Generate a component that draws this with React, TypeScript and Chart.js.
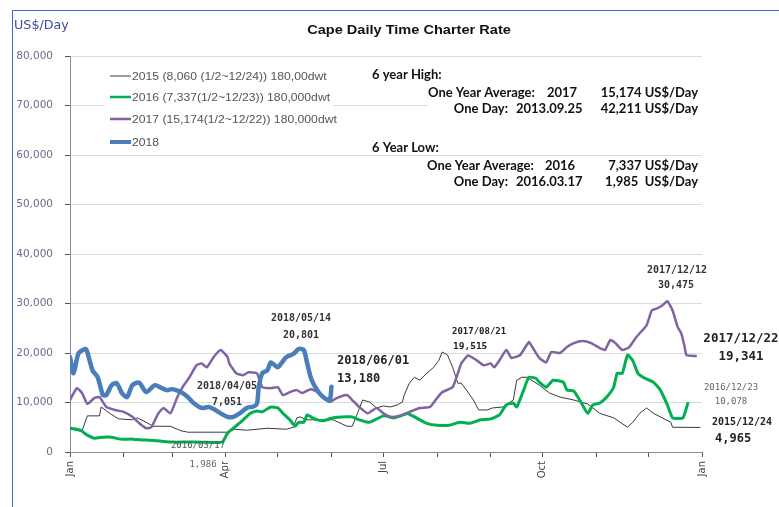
import { useEffect, useRef } from "react";
import { Chart, registerables } from "chart.js";
Chart.register(...registerables);

// ---- axis data ----
const monthTickDays = [0, 31, 59, 90, 120, 151, 181, 212, 243, 273, 304, 334, 365];
const monthTickLabels = ["Jan", "", "", "Apr", "", "", "Jul", "", "", "Oct", "", "", "Jan"];
const yTickValues = [0, 10000, 20000, 30000, 40000, 50000, 60000, 70000, 80000];

// ---- series data (day of year, US$/Day) ----
const days2018 = [0, 2, 5, 9, 10, 13, 16, 19, 21, 24, 27, 30, 33, 36, 40, 44, 49, 53, 56, 59, 64, 68, 71, 76, 80, 83, 87, 91, 94, 98, 102, 106, 108, 109, 111, 114, 116, 120, 122, 125, 129, 132, 135, 137, 139, 141, 144, 147, 150, 151];
const rate2018 = [19200, 15900, 20000, 20800, 20200, 16500, 15100, 11500, 11500, 13500, 13900, 11900, 11100, 13500, 14000, 12100, 13500, 12900, 12500, 12700, 12100, 11100, 10000, 8900, 9100, 8700, 7800, 7100, 7051, 7800, 8900, 9200, 9800, 13100, 15900, 16500, 18100, 17100, 17900, 19200, 19800, 20801, 20600, 17900, 15100, 13500, 11900, 10900, 10500, 13180];

const days2017 = [0, 4, 7, 10, 14, 17, 21, 26, 31, 36, 40, 44, 47, 51, 54, 58, 62, 65, 69, 73, 76, 79, 83, 87, 91, 92, 96, 100, 103, 108, 111, 116, 120, 123, 127, 131, 134, 139, 143, 146, 150, 154, 160, 163, 167, 172, 177, 181, 185, 191, 196, 202, 208, 212, 215, 221, 224, 226, 230, 235, 239, 243, 245, 248, 252, 255, 260, 265, 267, 271, 275, 278, 283, 287, 291, 296, 301, 306, 309, 312, 315, 319, 323, 327, 333, 336, 339, 342, 345, 348, 351, 353, 355, 356, 362];
const rate2017 = [10500, 12900, 11900, 9700, 10900, 11100, 9100, 8500, 8100, 7100, 5800, 4800, 5000, 7800, 8900, 7800, 11100, 13100, 15100, 17500, 17900, 17100, 19200, 20600, 19200, 17900, 15900, 15500, 16100, 15900, 13100, 12900, 13100, 11500, 12100, 12500, 11900, 12700, 12100, 11100, 10100, 10900, 11500, 10500, 9100, 7800, 8900, 7800, 7100, 7400, 8100, 8900, 9100, 10900, 12100, 13100, 15900, 17900, 19515, 18500, 17500, 17900, 17100, 18500, 20600, 19000, 19600, 22200, 21200, 19000, 18100, 20200, 20000, 21200, 22000, 22400, 22000, 21000, 20600, 22600, 22000, 20600, 21200, 23200, 25600, 28600, 29000, 29600, 30475, 28600, 25200, 24000, 21200, 19600, 19341];

const days2016 = [0, 6, 10, 14, 19, 24, 29, 36, 44, 52, 59, 68, 76, 83, 88, 91, 95, 100, 104, 108, 111, 116, 120, 123, 127, 130, 132, 135, 137, 140, 143, 146, 152, 160, 163, 167, 173, 181, 187, 191, 195, 200, 206, 212, 219, 225, 231, 237, 243, 248, 252, 256, 258, 262, 265, 269, 271, 275, 279, 285, 287, 291, 295, 299, 302, 306, 310, 314, 316, 319, 322, 325, 328, 332, 337, 341, 345, 348, 354, 357];
const rate2016 = [4800, 4400, 3400, 2800, 3000, 3000, 2600, 2600, 2400, 2200, 2000, 2000, 1985, 1900, 2000, 3800, 5000, 6500, 7800, 8300, 8100, 9100, 8900, 7800, 6500, 5200, 6000, 6000, 7500, 6900, 6500, 6300, 6900, 7100, 7100, 6500, 6000, 7300, 6900, 7300, 7800, 6900, 5800, 5400, 5400, 6000, 5800, 6500, 6700, 7500, 9500, 9900, 9100, 12500, 15100, 14900, 14100, 13100, 14500, 14100, 12500, 12300, 10100, 7800, 9500, 9900, 11100, 13100, 15900, 15900, 19600, 18500, 15900, 14900, 14100, 12500, 9500, 6900, 6900, 10078];

const days2015 = [1, 6, 7, 10, 17, 18, 23, 28, 36, 39, 44, 48, 58, 64, 68, 91, 95, 102, 114, 125, 129, 131, 133, 136, 152, 160, 163, 166, 169, 173, 177, 181, 185, 189, 192, 193, 196, 199, 202, 206, 210, 213, 215, 218, 221, 224, 226, 229, 233, 236, 241, 244, 250, 256, 258, 261, 264, 271, 277, 283, 291, 299, 306, 314, 322, 325, 329, 333, 337, 342, 347, 348, 364];
const rate2015 = [4600, 4200, 4300, 7300, 7300, 9100, 7800, 6700, 6500, 6900, 6000, 5200, 5200, 4300, 4000, 4000, 4600, 4400, 4800, 4600, 5000, 6900, 7100, 6500, 6500, 5200, 5200, 7800, 10500, 10100, 8900, 9300, 9100, 9500, 10100, 11500, 13900, 15100, 14500, 15900, 17100, 18500, 20200, 19600, 17100, 13900, 13900, 12500, 10500, 8500, 8500, 8900, 9100, 10500, 14500, 15100, 15100, 13500, 11900, 11100, 10500, 9700, 7800, 6900, 5000, 6000, 7800, 8900, 7800, 6900, 6000, 5000, 4965];

const seriesNames = [
  "2015 (8,060 (1/2~12/24)) 180,00dwt",
  "2016 (7,337(1/2~12/23)) 180,000dwt",
  "2017 (15,174(1/2~12/22)) 180,000dwt",
  "2018",
];
const seriesColors = ["#3a3a3a", "#00b050", "#8064a2", "#4a7ebb"];
const seriesWidths = [1, 3, 2.5, 4.5];

const toPoints = (d: number[], v: number[]) => d.map((x, i) => ({ x, y: v[i] }));

const MONO = "'DejaVu Sans Mono', monospace";
const INFO = "Lato, 'Open Sans', sans-serif";

function txt(ctx: CanvasRenderingContext2D, s: string, x: number, y: number, font: string, color: string, align: CanvasTextAlign = "left", sx = 1) {
  ctx.save();
  ctx.font = font;
  ctx.fillStyle = color;
  ctx.textAlign = align;
  ctx.textBaseline = "middle";
  ctx.translate(x, y);
  ctx.scale(sx, 1);
  ctx.fillText(s, 0, 0);
  ctx.restore();
}

const overlayPlugin = {
  id: "overlay",
  beforeDatasetsDraw(chart: any) {
    const ctx: CanvasRenderingContext2D = chart.ctx;
    ctx.save();
    ctx.fillStyle = "#ffffff";
    ctx.fillRect(105, 64, 228, 88);
    ctx.fillRect(428, 84, 274, 30);
    ctx.fillRect(428, 158, 274, 32);
    ctx.restore();
  },
  afterDraw(chart: any) {
    const ctx: CanvasRenderingContext2D = chart.ctx;
    ctx.save();
    // border lines
    ctx.strokeStyle = "#3f63e6";
    ctx.lineWidth = 1;
    ctx.beginPath();
    ctx.moveTo(12.5, 507);
    ctx.lineTo(12.5, 10.5);
    ctx.lineTo(779, 10.5);
    ctx.stroke();

    // title and unit
    txt(ctx, "Cape Daily Time Charter Rate", 409, 30, "bold 13px 'Liberation Sans', Arial, sans-serif", "#111", "center", 1.12);
    txt(ctx, "US$/Day", 14, 26, "12px 'DejaVu Sans', sans-serif", "#3d4f9f", "left", 1.06);

    // legend
    const legendY = [76, 97, 119, 142];
    seriesNames.forEach((name, i) => {
      ctx.strokeStyle = seriesColors[i];
      ctx.lineWidth = i === 3 ? 4 : i === 0 ? 1 : 2.5;
      ctx.beginPath();
      ctx.moveTo(110, legendY[i]);
      ctx.lineTo(131, legendY[i]);
      ctx.stroke();
      txt(ctx, name, 132, legendY[i] + 1, "10.5px 'Liberation Sans', Arial, sans-serif", "#555", "left", 1.16);
    });

    // info box
    const b = "bold 13px " + INFO;
    txt(ctx, "6 year High:", 372, 75, b, "#111");
    txt(ctx, "One Year Average:", 428, 93, b, "#111");
    txt(ctx, "2017", 547, 93, b, "#111");
    txt(ctx, "15,174 US$/Day", 698, 93, b, "#111", "right");
    txt(ctx, "One Day:", 508, 109, b, "#111", "right");
    txt(ctx, "2013.09.25", 516, 109, b, "#111");
    txt(ctx, "42,211 US$/Day", 698, 109, b, "#111", "right");
    txt(ctx, "6 Year Low:", 372, 148, b, "#111");
    txt(ctx, "One Year Average:", 427, 166, b, "#111");
    txt(ctx, "2016", 545, 166, b, "#111");
    txt(ctx, "7,337 US$/Day", 698, 166, b, "#111", "right");
    txt(ctx, "One Day:", 508, 182, b, "#111", "right");
    txt(ctx, "2016.03.17", 516, 182, b, "#111");
    txt(ctx, "1,985  US$/Day", 698, 182, b, "#111", "right");

    // point annotations
    const a10 = "bold 10px " + MONO;
    txt(ctx, "2018/05/14", 301, 318, a10, "#333", "center");
    txt(ctx, "20,801", 301, 335, a10, "#333", "center");
    txt(ctx, "2018/04/05", 227, 386, a10, "#333", "center");
    txt(ctx, "7,051", 227, 402, a10, "#333", "center");
    txt(ctx, "2018/06/01", 337, 361, "bold 12px " + MONO, "#222");
    txt(ctx, "13,180", 337, 379, "bold 12px " + MONO, "#222");
    txt(ctx, "2017/08/21", 452, 332, "bold 9px " + MONO, "#222");
    txt(ctx, "19,515", 453, 347, "bold 9.5px " + MONO, "#222");
    txt(ctx, "2017/12/12", 677, 270, a10, "#333", "center");
    txt(ctx, "30,475", 676, 285, a10, "#333", "center");
    txt(ctx, "2017/12/22", 741, 339, "bold 12.5px " + MONO, "#222", "center");
    txt(ctx, "19,341", 741, 357, "bold 12.5px " + MONO, "#222", "center");
    txt(ctx, "2016/12/23", 731, 388, "9px " + MONO, "#666", "center");
    txt(ctx, "10,078", 731, 402, "9px " + MONO, "#666", "center");
    txt(ctx, "2015/12/24", 742, 422, "bold 10px " + MONO, "#222", "center");
    txt(ctx, "4,965", 715, 439, "bold 12px " + MONO, "#222");
    txt(ctx, "2016/03/17", 198, 446, "9px " + MONO, "#555", "center");
    txt(ctx, "1,986", 203, 465, "9px " + MONO, "#666", "center");
    ctx.restore();
  },
};

export default function App() {
  const ref = useRef<HTMLCanvasElement>(null);
  useEffect(() => {
    if (!ref.current) return;
    const chart = new Chart(ref.current, {
      type: "line",
      data: {
        datasets: [
          { label: seriesNames[3], data: toPoints(days2018, rate2018), borderColor: seriesColors[3], borderWidth: seriesWidths[3], pointRadius: 0, tension: 0.25, borderJoinStyle: "round", borderCapStyle: "round" },
          { label: seriesNames[2], data: toPoints(days2017, rate2017), borderColor: seriesColors[2], borderWidth: seriesWidths[2], pointRadius: 0, tension: 0.15, borderJoinStyle: "round" },
          { label: seriesNames[1], data: toPoints(days2016, rate2016), borderColor: seriesColors[1], borderWidth: seriesWidths[1], pointRadius: 0, tension: 0.15, borderJoinStyle: "round" },
          { label: seriesNames[0], data: toPoints(days2015, rate2015), borderColor: seriesColors[0], borderWidth: seriesWidths[0], pointRadius: 0, tension: 0 },
        ],
      },
      options: {
        responsive: false,
        animation: false,
        layout: { padding: { left: 0, right: 77, top: 56, bottom: 0 } },
        plugins: { legend: { display: false }, title: { display: false }, tooltip: { enabled: false } },
        scales: {
          x: {
            type: "linear",
            min: 0,
            max: 365,
            afterBuildTicks: (s: any) => { s.ticks = monthTickDays.map((v) => ({ value: v })); },
            afterFit: (s: any) => { s.height = 55; },
            ticks: {
              autoSkip: false,
              minRotation: 90,
              maxRotation: 90,
              padding: 4,
              color: "#444",
              font: { family: "'DejaVu Sans', sans-serif", size: 10 },
              callback: (v: any) => { const i = monthTickDays.indexOf(Number(v)); return i >= 0 ? monthTickLabels[i] : ""; },
            },
            grid: { drawOnChartArea: false, drawTicks: true, tickLength: 5, tickColor: "#555" },
            border: { color: "#8a8aa6", width: 1 },
          },
          y: {
            min: 0,
            max: 80000,
            afterBuildTicks: (s: any) => { s.ticks = yTickValues.map((v) => ({ value: v })); },
            afterFit: (s: any) => { s.width = 70; },
            ticks: {
              padding: 12,
              color: "#6a6a90",
              font: { family: "'DejaVu Sans', sans-serif", size: 10.5 },
              callback: (v: any) => Number(v).toLocaleString("en-US"),
            },
            grid: { color: "#dadada", tickColor: "#555", tickLength: 5 },
            border: { color: "#8a8aa6", width: 1 },
          },
        },
      },
      plugins: [overlayPlugin],
    } as any);
    return () => chart.destroy();
  }, []);
  return (
    <div style={{ position: "fixed", left: 0, top: 0, width: 779, height: 507, background: "#fff" }}>
      <canvas ref={ref} width={779} height={507} style={{ display: "block", width: 779, height: 507 }} />
    </div>
  );
}
